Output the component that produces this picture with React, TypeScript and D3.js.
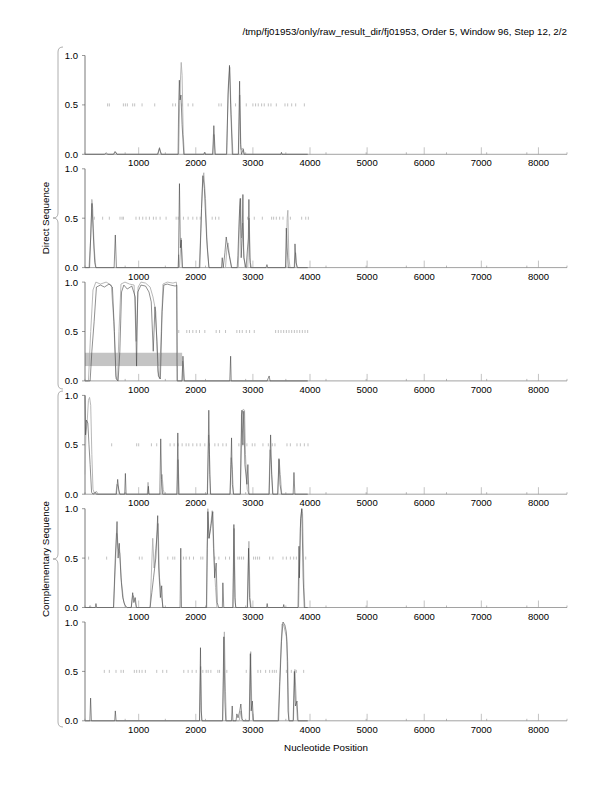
import { useEffect, useRef } from 'react'
import * as d3 from 'd3'

const W = 612
const H = 792

const TITLE = '/tmp/fj01953/only/raw_result_dir/fj01953, Order 5, Window 96, Step 12, 2/2'
const X_LABEL = 'Nucleotide Position'
const GROUP_LABELS = ['Direct Sequence', 'Complementary Sequence']
const X_DOMAIN = [60, 8500]
const X_TICKS = [1000, 2000, 3000, 4000, 5000, 6000, 7000, 8000]
const Y_TICKS = [0, 0.5, 1]

type P = [number, number]

// dark trace per panel
const dark1: P[] = [[60,0],[400,0],[430,0.015],[460,0],[560,0],[590,0.025],[620,0],[1330,0],[1363,0.06],[1395,0],[1690,0],[1700,0.5],[1712,0.75],[1725,0.55],[1740,0.6],[1760,0.3],[1790,0],[2140,0],[2152,0.02],[2165,0],[2295,0],[2316,0.29],[2340,0],[2540,0],[2565,0.6],[2590,0.9],[2610,0.5],[2640,0],[2745,0],[2767,0.74],[2785,0.1],[2800,0],[2830,0.05],[2845,0],[3490,0],[3500,0.02],[3510,0],[3960,0]]
const dark2: P[] = [[60,0],[140,0],[165,0.4],[182,0.65],[200,0.4],[230,0.05],[250,0],[570,0],[591,0.33],[610,0],[1695,0],[1714,0.85],[1730,0.2],[1745,0.28],[1765,0],[2070,0],[2100,0.6],[2125,0.93],[2150,0.8],[2190,0.3],[2230,0],[2450,0],[2463,0.1],[2480,0],[2510,0.15],[2533,0.31],[2560,0.2],[2600,0.08],[2625,0],[2725,0],[2737,0.12],[2760,0.5],[2778,0.7],[2795,0.1],[2812,0.3],[2825,0.74],[2840,0.1],[2880,0],[2920,0.3],[2930,0.69],[2945,0.1],[2960,0],[3230,0],[3246,0.03],[3260,0],[3570,0],[3585,0.4],[3600,0.2],[3620,0],[3725,0],[3737,0.24],[3755,0.05],[3780,0],[3960,0]]
const dark3: P[] = [[60,0],[150,0],[180,0.3],[220,0.6],[260,0.95],[330,0.97],[400,0.95],[480,0.98],[540,0.95],[575,0.5],[605,0.02],[640,0],[670,0.3],[700,0.9],[740,0.97],[800,0.93],[880,0.96],[940,0.85],[963,0.15],[985,0.9],[1040,0.97],[1120,0.96],[1180,0.9],[1220,0.8],[1255,0.3],[1285,0.75],[1320,0.4],[1345,0.05],[1380,0.02],[1410,0.7],[1440,0.97],[1500,0.98],[1560,0.97],[1640,0.96],[1666,0.97],[1672,0],[1760,0],[1775,0.25],[1800,0],[2595,0],[2610,0.25],[2620,0],[3250,0],[3270,0.03],[3285,0.05],[3300,0],[3960,0]]
const dark4: P[] = [[60,1.0],[70,0.6],[85,0.75],[110,0.72],[130,0.5],[150,0.3],[175,0.02],[200,0],[240,0.02],[260,0],[610,0],[632,0.15],[650,0.05],[670,0],[755,0],[767,0.21],[780,0],[1160,0],[1170,0.08],[1180,0],[1370,0],[1386,0.56],[1400,0.15],[1420,0],[1670,0],[1685,0.62],[1700,0],[2205,0],[2228,0.85],[2245,0.2],[2260,0],[2600,0],[2615,0.3],[2626,0.57],[2640,0.1],[2660,0],[2780,0],[2807,0.85],[2825,0.5],[2840,0.84],[2860,0.3],[2895,0.1],[2912,0.3],[2930,0],[3285,0],[3310,0.6],[3330,0.2],[3350,0],[3435,0],[3456,0.36],[3475,0.1],[3500,0],[3705,0],[3719,0.22],[3735,0],[3960,0]]
const dark5: P[] = [[60,0],[240,0],[252,0.04],[265,0],[560,0],[590,0.5],[621,0.87],[640,0.5],[660,0.65],[690,0.3],[720,0.1],[760,0.02],[800,0],[870,0],[895,0.15],[915,0.05],[940,0.1],[960,0],[1200,0],[1230,0.15],[1260,0.3],[1300,0.5],[1333,0.93],[1350,0.4],[1380,0.1],[1403,0.22],[1420,0],[1725,0],[1737,0.6],[1750,0],[2190,0],[2200,0.6],[2212,0.97],[2230,0.7],[2260,0.8],[2298,0.97],[2330,0.3],[2357,0.45],[2375,0.05],[2400,0],[2465,0],[2474,0.25],[2490,0],[2650,0],[2667,0.84],[2685,0.1],[2700,0],[2905,0],[2924,0.6],[2940,0.1],[2960,0],[3240,0],[3250,0.04],[3260,0],[3530,0],[3540,0.03],[3550,0],[3790,0],[3807,0.62],[3815,0.3],[3835,0.9],[3857,1.0],[3880,0.3],[3900,0],[3960,0]]
const dark6: P[] = [[60,0],[145,0],[158,0.23],[172,0],[580,0],[591,0.1],[605,0],[2065,0],[2082,0.74],[2095,0.1],[2110,0],[2470,0],[2491,0.85],[2510,0.2],[2525,0],[2625,0],[2638,0.15],[2650,0],[2705,0],[2719,0.07],[2740,0.03],[2770,0.1],[2789,0.17],[2810,0.02],[2830,0],[2935,0],[2955,0.68],[2970,0.1],[2990,0.2],[3010,0],[3450,0],[3470,0.35],[3500,0.8],[3527,1.0],[3560,0.97],[3585,0.9],[3597,0.8],[3615,0.1],[3632,0],[3705,0],[3726,0.5],[3745,0.15],[3772,0.2],[3790,0],[3960,0]]

// light trace per panel
const light1: P[] = [[60,0],[560,0],[585,0.03],[600,0.02],[620,0],[1340,0],[1365,0.07],[1380,0.03],[1400,0],[1700,0],[1720,0.6],[1745,0.93],[1760,0.8],[1780,0.2],[1800,0],[2300,0],[2318,0.2],[2335,0],[2540,0],[2570,0.7],[2595,0.88],[2620,0.4],[2650,0],[2750,0],[2770,0.6],[2790,0.05],[2830,0.06],[2850,0],[3960,0]]
const light2: P[] = [[60,0],[130,0],[160,0.3],[180,0.69],[195,0.6],[220,0.2],[250,0],[1690,0],[1700,0.13],[1715,0],[1745,0.3],[1765,0],[2060,0],[2090,0.4],[2120,0.9],[2140,0.96],[2170,0.7],[2200,0.2],[2230,0],[2520,0],[2545,0.2],[2565,0.25],[2590,0.12],[2630,0],[2745,0],[2770,0.6],[2785,0.7],[2800,0.3],[2820,0.45],[2835,0.2],[2860,0],[2910,0],[2935,0.5],[2955,0.05],[2975,0],[3580,0],[3600,0.5],[3612,0.58],[3630,0.1],[3650,0],[3730,0],[3748,0.15],[3770,0],[3960,0]]
const light3: P[] = [[60,0],[120,0],[160,0.5],[200,0.92],[250,1.0],[330,0.98],[430,1.0],[520,0.97],[565,0.6],[600,0.05],[630,0],[655,0.5],[690,0.98],[760,1.0],[840,0.98],[920,0.97],[955,0.4],[990,0.95],[1040,1.0],[1120,0.99],[1200,0.95],[1250,0.85],[1300,0.7],[1335,0.1],[1365,0.02],[1395,0.5],[1425,0.98],[1500,1.0],[1600,0.99],[1660,1.0],[1668,0.95],[1680,0],[1760,0],[1770,0.2],[1790,0],[3960,0]]
const light4: P[] = [[60,0.2],[75,0.6],[100,0.75],[120,0.95],[140,0.98],[160,0.9],[180,0.4],[200,0.05],[230,0],[260,0.03],[290,0],[600,0],[620,0.1],[640,0.08],[660,0],[1150,0],[1164,0.12],[1178,0],[1390,0],[1409,0.2],[1430,0.05],[1450,0],[1670,0],[1690,0.35],[1710,0],[2200,0],[2225,0.6],[2240,0.4],[2255,0],[2600,0],[2620,0.37],[2640,0.25],[2660,0],[2780,0],[2800,0.8],[2830,0.86],[2854,0.85],[2870,0.4],[2900,0.05],[2930,0],[3280,0],[3300,0.45],[3320,0.3],[3345,0],[3435,0],[3460,0.35],[3480,0.2],[3505,0],[3960,0]]
const light5: P[] = [[60,0],[130,0],[150,0.02],[170,0],[560,0],[590,0.4],[615,0.75],[640,0.6],[670,0.55],[700,0.25],[740,0.05],[780,0],[870,0],[890,0.1],[905,0.12],[930,0.08],[960,0],[1200,0],[1246,0.7],[1270,0.4],[1300,0.6],[1340,0.85],[1365,0.3],[1400,0.1],[1430,0],[2185,0],[2211,1.0],[2235,0.7],[2265,0.85],[2287,0.98],[2310,0.6],[2346,0.2],[2370,0],[2650,0],[2672,0.8],[2690,0.05],[2700,0],[2900,0],[2930,0.67],[2950,0.1],[2970,0],[3800,0],[3830,0.8],[3854,1.0],[3870,0.95],[3895,0.2],[3910,0],[3960,0]]
const light6: P[] = [[60,0],[2065,0],[2085,0.55],[2100,0],[2470,0],[2500,0.9],[2520,0.3],[2535,0],[2760,0],[2789,0.1],[2810,0],[2940,0],[2962,0.7],[2980,0.15],[3000,0],[3440,0],[3468,0.4],[3509,0.98],[3540,0.97],[3585,0.85],[3610,0.6],[3630,0],[3710,0],[3735,0.52],[3760,0.2],[3780,0],[3960,0]]

// short marks on the 0.5 level
const marks1 = [456,486,732,767,802,895,930,1059,1281,1597,1644,1761,1866,1948,2404,2445,2696,2884,3000,3047,3094,3153,3199,3270,3316,3410,3562,3609,3679,3749,3901]
const marks2 = [223,369,486,673,708,732,953,1012,1071,1129,1188,1258,1305,1375,1480,1656,1691,1784,1866,1948,2018,2077,2287,2346,2404,2907,3024,3165,3328,3363,3410,3468,3527,3656,3854,3925,3971]
const marks3 = [1702,1842,1889,1948,2007,2065,2158,2357,2416,2521,2719,2767,2814,2884,2942,3024,3398,3445,3492,3539,3586,3632,3679,3726,3772,3819,3866,3913,3959]
const marks4 = [527,965,1000,1223,1316,1550,1621,1691,1761,1831,1878,1948,2018,2077,2158,2240,2334,2393,2474,2533,2754,2825,2895,2989,3035,3176,3270,3340,3386,3597,3656,3772,3831,3901,3965]
const marks5 = [123,439,1012,1059,1509,1597,1632,1784,1831,1889,1960,2088,2123,2334,2404,2521,2591,2737,2767,2802,2837,3012,3047,3082,3117,3293,3351,3527,3586,3656,3714,3761,3925]
const marks6 = [398,486,603,691,732,924,965,1012,1059,1117,1316,1421,1491,1790,1866,1936,2007,2123,2182,2217,2264,2386,2416,2544,2884,3088,3135,3223,3293,3340,3375,3410,3586,3673,3761,3889]

const DARK = [dark1, dark2, dark3, dark4, dark5, dark6]
const LIGHT = [light1, light2, light3, light4, light5, light6]
const MARKS = [marks1, marks2, marks3, marks4, marks5, marks6]

// shaded band in third panel
const BAND = { panel: 2, x: [60, 1761], y: [0.15, 0.285] }

export default function App(){
    const svgRef = useRef<SVGSVGElement|null>(null)

    useEffect(()=>{
        const svg = d3.select(svgRef.current)
            .attr('width', W)
            .attr('height', H)
        svg.selectAll('*').remove()

        const left = 85
        const right = 567
        const firstTop = 55.5
        const step = 113.3
        const ph = 98.8
        const font = 'Liberation Sans, Arial, Helvetica, sans-serif'

        const x = d3.scaleLinear().domain(X_DOMAIN).range([left, right])
        const minor = d3.range(13).map(i => X_DOMAIN[0] + i * (X_DOMAIN[1] - X_DOMAIN[0]) / 12)

        svg.append('text')
            .attr('x', right).attr('y', 35)
            .attr('text-anchor', 'end')
            .attr('font-family', font).attr('font-size', 9.8)
            .text(TITLE)

        for(let i=0; i<6; i++){
            const top = firstTop + i * step
            const y = d3.scaleLinear().domain([0, 1]).range([top + ph, top])
            const g = svg.append('g')

            if(i === BAND.panel){
                g.append('rect')
                    .attr('x', x(BAND.x[0]))
                    .attr('width', x(BAND.x[1]) - x(BAND.x[0]))
                    .attr('y', y(BAND.y[1]))
                    .attr('height', y(BAND.y[0]) - y(BAND.y[1]))
                    .attr('fill', '#c4c4c4')
            }

            // axes
            g.append('line')
                .attr('x1', left).attr('x2', right)
                .attr('y1', y(0)).attr('y2', y(0))
                .attr('stroke', '#8a8a8a').attr('stroke-width', 0.8)
            g.append('line')
                .attr('x1', left).attr('x2', left)
                .attr('y1', y(0)).attr('y2', y(1))
                .attr('stroke', '#555').attr('stroke-width', 0.8)
            g.selectAll('.minor')
                .data(minor)
                .enter()
                .append('line')
                .attr('x1', (d:any) => x(d)).attr('x2', (d:any) => x(d))
                .attr('y1', y(0)).attr('y2', y(0) - 2)
                .attr('stroke', '#8a8a8a').attr('stroke-width', 0.6)
            g.selectAll('.major')
                .data(X_TICKS)
                .enter()
                .append('line')
                .attr('x1', (d:any) => x(d)).attr('x2', (d:any) => x(d))
                .attr('y1', y(0)).attr('y2', y(0) - 7)
                .attr('stroke', '#9a9a9a').attr('stroke-width', 0.6)
            g.selectAll('.xl')
                .data(X_TICKS)
                .enter()
                .append('text')
                .attr('x', (d:any) => x(d))
                .attr('y', y(0) + 12)
                .attr('text-anchor', 'middle')
                .attr('font-family', font).attr('font-size', 9.5)
                .text((d:any) => d)
            g.selectAll('.yt')
                .data(Y_TICKS)
                .enter()
                .append('line')
                .attr('x1', left - 3).attr('x2', left)
                .attr('y1', (d:any) => y(d)).attr('y2', (d:any) => y(d))
                .attr('stroke', '#555').attr('stroke-width', 0.6)
            g.selectAll('.yl')
                .data(Y_TICKS)
                .enter()
                .append('text')
                .attr('x', left - 7)
                .attr('y', (d:any) => y(d) + 3.5)
                .attr('text-anchor', 'end')
                .attr('font-family', font).attr('font-size', 9.5)
                .text((d:any) => d.toFixed(1))

            // marks at 0.5
            g.selectAll('.mk')
                .data(MARKS[i])
                .enter()
                .append('line')
                .attr('x1', (d:any) => x(d)).attr('x2', (d:any) => x(d))
                .attr('y1', y(0.5) - 1.5).attr('y2', y(0.5) + 1.5)
                .attr('stroke', '#999').attr('stroke-width', 0.6)

            const line = d3.line<P>().x(d => x(d[0])).y(d => y(d[1]))
            g.append('path')
                .attr('d', line(LIGHT[i]))
                .attr('fill', 'none')
                .attr('stroke', '#b0b0b0')
                .attr('stroke-width', 0.9)
            g.append('path')
                .attr('d', line(DARK[i]))
                .attr('fill', 'none')
                .attr('stroke', '#444')
                .attr('stroke-width', 0.6)
        }

        svg.append('text')
            .attr('x', (left + right) / 2).attr('y', 751)
            .attr('text-anchor', 'middle')
            .attr('font-family', font).attr('font-size', 9.8)
            .text(X_LABEL)

        /* curly braces grouping panels */
        const braces = [[47, 389], [391, 727]]
        const bx = 58
        braces.forEach((b, j) => {
            const [y1, y2] = b
            const ym = (y1 + y2) / 2
            const r = 5
            const d = `M${bx + r},${y1} Q${bx},${y1} ${bx},${y1 + r} L${bx},${ym - r} Q${bx},${ym} ${bx - r},${ym} Q${bx},${ym} ${bx},${ym + r} L${bx},${y2 - r} Q${bx},${y2} ${bx + r},${y2}`
            svg.append('path')
                .attr('d', d)
                .attr('fill', 'none')
                .attr('stroke', '#999')
                .attr('stroke-width', 0.8)
            svg.append('text')
                .attr('transform', `translate(49,${ym}) rotate(-90)`)
                .attr('text-anchor', 'middle')
                .attr('font-family', font).attr('font-size', 9.8)
                .text(GROUP_LABELS[j])
        })
    },[])

    return <svg ref={svgRef} style={{position:'absolute', left:0, top:0}}></svg>
}
